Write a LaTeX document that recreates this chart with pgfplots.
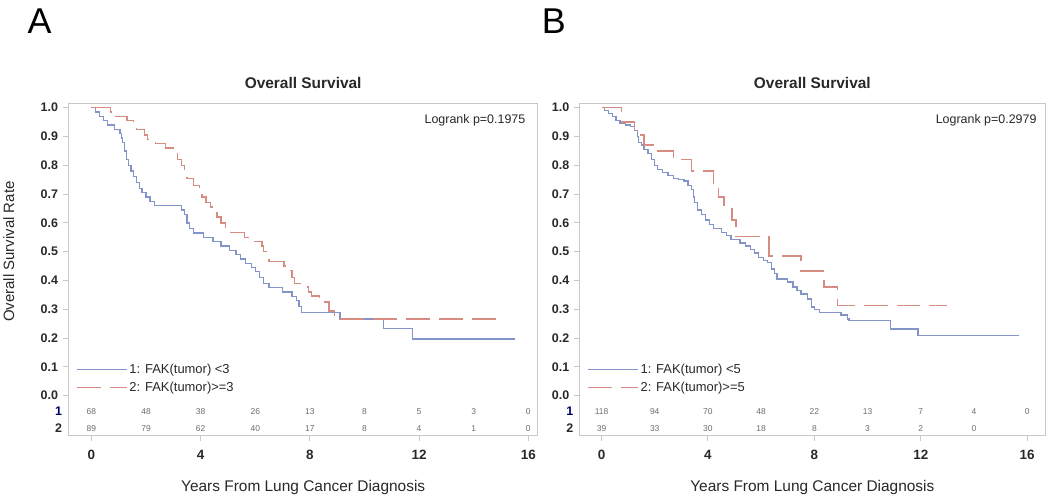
\documentclass[border=0pt]{standalone}
\usepackage{pgfplots}
\pgfplotsset{compat=1.18}
\usepackage{fontspec}
\setmainfont{Liberation Sans}

\definecolor{kmblue}{RGB}{130,148,200}
\definecolor{kmred}{RGB}{214,140,128}
\definecolor{boxgray}{RGB}{200,200,200}
\definecolor{txt}{RGB}{40,40,40}

\pgfplotsset{
  kmaxis/.style={
    scale only axis, clip=false,
    axis line style={boxgray, line width=1pt},
    ymin=-0.138, ymax=1.014,
    ytick={0,0.1,0.2,0.3,0.4,0.5,0.6,0.7,0.8,0.9,1.0},
    xtick={0,4,8,12,16},
    xtick pos=bottom, ytick pos=left,
    tick align=outside,
    major tick length=6pt,
    tick style={boxgray, line width=1pt},
    /pgf/number format/assume math mode=true,
    yticklabel style={/pgf/number format/fixed, /pgf/number format/precision=1,
      /pgf/number format/fixed zerofill, font=\fontsize{12.5}{13}\selectfont\bfseries, text=txt, xshift=-1pt},
    xticklabel style={font=\fontsize{13.5}{14}\selectfont\bfseries, text=txt, yshift=-5pt},
    xlabel={Years From Lung Cancer Diagnosis},
    xlabel style={font=\fontsize{15.5}{16}\selectfont, text=txt, yshift=-14pt},
    title={Overall Survival},
    title style={at={(0.5,1)}, anchor=base, yshift=9pt, font=\fontsize{15.5}{16}\selectfont\bfseries, text=txt},
    legend style={draw=none, fill=none, at={(0.01,0.115)}, anchor=south west,
      font=\fontsize{13}{15}\selectfont, text=txt, row sep=3.5pt},
    legend cell align=left,
    legend image code/.code={\draw[#1] (0pt,0pt) -- (50pt,0pt);},
  },
  kmblueline/.style={const plot, color=kmblue, line width=1.3pt, mark=none},
  kmredline/.style={const plot, color=kmred, line width=1.3pt, mark=none, dash pattern=on 24pt off 9pt},
  atrisk/.style={draw=none, mark=none, forget plot, nodes near coords, point meta=explicit symbolic,
    nodes near coords align=center,
    every node near coord/.append style={font=\fontsize{8.5}{9}\selectfont, text=gray!85!black}},
}
\tikzset{
  risklab/.style={anchor=east, font=\fontsize{12.5}{13}\selectfont\bfseries, xshift=-3pt},
  logrank/.style={anchor=north east, font=\fontsize{12.5}{13}\selectfont, text=txt, yshift=-7pt},
}

\begin{document}
\begin{tikzpicture}
\path (0pt,0pt) rectangle (1050pt,494pt);
\node[font=\fontsize{36}{40}\selectfont, anchor=base] at (36pt,460pt) {A};
\node[font=\fontsize{36}{40}\selectfont, anchor=base] at (552pt,460pt) {B};

% panel A
\begin{axis}[kmaxis, at={(65pt,57pt)}, anchor=south west, width=471pt, height=333pt,
  xmin=-0.84, xmax=16.35,
  ylabel={Overall Survival Rate},
  ylabel style={at={(axis description cs:-0.108,0.554)}, anchor=south, font=\fontsize{15}{15}\selectfont, text=txt}]
\addplot[kmblueline] coordinates {
 (0,1.0) (0.15,0.985) (0.3,0.97) (0.45,0.955) (0.6,0.94) (0.85,0.925) (1.05,0.91)
 (1.1,0.895) (1.15,0.88) (1.22,0.85) (1.28,0.82) (1.35,0.80) (1.45,0.78) (1.55,0.76)
 (1.65,0.74) (1.75,0.72) (1.85,0.705) (2.0,0.69) (2.15,0.675) (2.3,0.66) (3.3,0.645)
 (3.4,0.63) (3.5,0.60) (3.6,0.58) (3.75,0.565) (4.1,0.55) (4.45,0.535) (4.75,0.52)
 (5.05,0.505) (5.3,0.49) (5.45,0.475) (5.65,0.46) (5.85,0.445) (6.0,0.43) (6.15,0.41)
 (6.3,0.39) (6.5,0.375) (7.0,0.36) (7.35,0.345) (7.5,0.33) (7.6,0.31) (7.7,0.29)
 (9.1,0.266) (10.7,0.233) (11.75,0.197) (15.5,0.197)
};
\addlegendentry{1: FAK(tumor) <3}
\addplot[kmredline] coordinates {
 (0,1.0) (0.7,0.985) (0.9,0.97) (1.3,0.955) (1.55,0.94) (1.65,0.925) (1.95,0.905)
 (2.05,0.89) (2.35,0.875) (2.7,0.86) (3.05,0.845) (3.15,0.82) (3.3,0.80) (3.4,0.78)
 (3.5,0.755) (3.75,0.73) (3.95,0.71) (4.05,0.69) (4.2,0.67) (4.35,0.655) (4.5,0.635)
 (4.6,0.62) (4.75,0.60) (4.9,0.585) (5.05,0.567) (5.6,0.55) (5.75,0.536) (6.25,0.52)
 (6.3,0.50) (6.5,0.467) (7.05,0.45) (7.15,0.435) (7.35,0.41) (7.45,0.39) (7.65,0.377)
 (7.95,0.36) (8.05,0.346) (8.35,0.325) (8.7,0.294) (8.9,0.266) (14.85,0.266)
};
\addlegendentry{2: FAK(tumor)>=3}
\addplot[atrisk] coordinates {
 (0,-0.055)[68] (2,-0.055)[48] (4,-0.055)[38] (6,-0.055)[26] (8,-0.055)[13]
 (10,-0.055)[8] (12,-0.055)[5] (14,-0.055)[3] (16,-0.055)[0]
};
\addplot[atrisk] coordinates {
 (0,-0.114)[89] (2,-0.114)[79] (4,-0.114)[62] (6,-0.114)[40] (8,-0.114)[17]
 (10,-0.114)[8] (12,-0.114)[4] (14,-0.114)[1] (16,-0.114)[0]
};
\node[risklab, text=blue!40!black] at (axis cs:-0.84,-0.055) {1};
\node[risklab, text=txt] at (axis cs:-0.84,-0.114) {2};
\node[logrank, xshift=-9pt] at (rel axis cs:1,1) {Logrank p=0.1975};
\end{axis}

% panel B
\begin{axis}[kmaxis, at={(578pt,57pt)}, anchor=south west, width=467pt, height=333pt,
  xmin=-0.82, xmax=16.67]
\addplot[kmblueline] coordinates {
 (0,1.0) (0.1,0.99) (0.25,0.98) (0.4,0.97) (0.55,0.955) (0.7,0.945) (0.9,0.94)
 (1.1,0.935) (1.25,0.92) (1.35,0.90) (1.4,0.88) (1.5,0.87) (1.6,0.855) (1.75,0.84)
 (1.87,0.82) (2.0,0.80) (2.1,0.785) (2.3,0.775) (2.5,0.765) (2.7,0.755) (2.9,0.75)
 (3.1,0.745) (3.25,0.73) (3.37,0.715) (3.45,0.69) (3.5,0.67) (3.6,0.645) (3.75,0.63)
 (3.9,0.61) (4.05,0.595) (4.2,0.58) (4.5,0.567) (4.7,0.555) (4.87,0.543) (5.2,0.53)
 (5.4,0.52) (5.6,0.508) (5.75,0.495) (5.9,0.48) (6.1,0.47) (6.25,0.463) (6.4,0.44)
 (6.5,0.425) (6.6,0.405) (7.0,0.395) (7.2,0.377) (7.35,0.365) (7.5,0.353) (7.75,0.336)
 (7.9,0.308) (8.0,0.30) (8.2,0.29) (9.0,0.28) (9.25,0.266) (9.3,0.26) (10.86,0.232)
 (11.9,0.208) (15.7,0.208)
};
\addlegendentry{1: FAK(tumor) <5}
\addplot[kmredline] coordinates {
 (0,1.0) (0.75,0.95) (1.23,0.92) (1.4,0.905) (1.6,0.87) (1.95,0.85) (2.7,0.82)
 (3.37,0.78) (4.2,0.727) (4.4,0.69) (4.6,0.65) (4.9,0.61) (5.05,0.553) (6.3,0.485)
 (7.5,0.433) (8.36,0.377) (8.87,0.312) (13.0,0.312)
};
\addlegendentry{2: FAK(tumor)>=5}
\addplot[atrisk] coordinates {
 (0,-0.055)[118] (2,-0.055)[94] (4,-0.055)[70] (6,-0.055)[48] (8,-0.055)[22]
 (10,-0.055)[13] (12,-0.055)[7] (14,-0.055)[4] (16,-0.055)[0]
};
\addplot[atrisk] coordinates {
 (0,-0.114)[39] (2,-0.114)[33] (4,-0.114)[30] (6,-0.114)[18] (8,-0.114)[8]
 (10,-0.114)[3] (12,-0.114)[2] (14,-0.114)[0]
};
\node[risklab, text=blue!40!black] at (axis cs:-0.82,-0.055) {1};
\node[risklab, text=txt] at (axis cs:-0.82,-0.114) {2};
\node[logrank, xshift=-5pt] at (rel axis cs:1,1) {Logrank p=0.2979};
\end{axis}
\end{tikzpicture}
\end{document}
